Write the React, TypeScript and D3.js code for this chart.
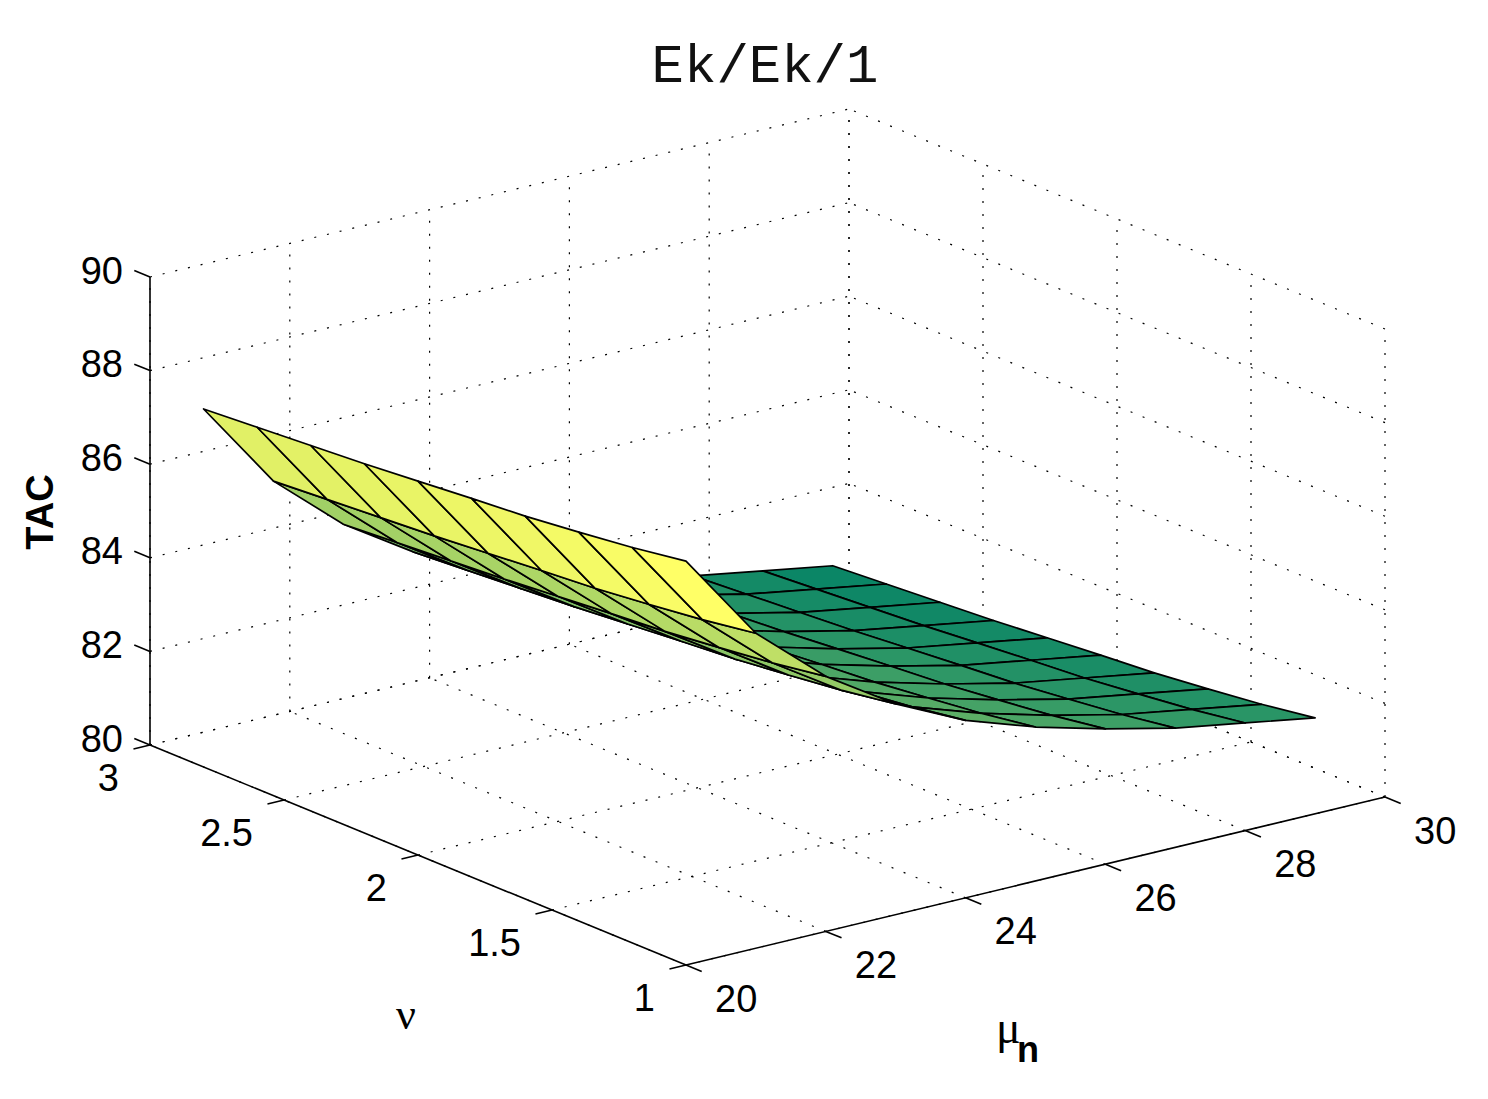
import React from "react"
import * as d3 from "d3"

// surface grid
const MU = [20, 21, 22, 23, 24, 25, 26, 27, 28, 29]
const NU = [1.0, 1.2, 1.4, 1.6, 1.8, 2.0, 2.2, 2.4, 2.6, 2.8]
// TAC[i][j] -> NU[i], MU[j]
const TAC = [
  [88.63, 86.73, 85.45, 84.5, 83.79, 83.29, 82.89, 82.55, 82.3, 82.05],
  [88.45, 86.55, 85.27, 84.32, 83.61, 83.11, 82.71, 82.37, 82.12, 81.87],
  [88.31, 86.41, 85.13, 84.18, 83.47, 82.97, 82.57, 82.23, 81.98, 81.73],
  [88.18, 86.28, 85.0, 84.05, 83.34, 82.84, 82.44, 82.1, 81.85, 81.6],
  [88.09, 86.19, 84.91, 83.96, 83.25, 82.75, 82.35, 82.01, 81.76, 81.51],
  [87.99, 86.09, 84.81, 83.86, 83.15, 82.65, 82.25, 81.91, 81.66, 81.41],
  [87.89, 85.99, 84.71, 83.76, 83.05, 82.55, 82.15, 81.81, 81.56, 81.31],
  [87.81, 85.91, 84.63, 83.68, 82.97, 82.47, 82.07, 81.73, 81.48, 81.23],
  [87.73, 85.83, 84.55, 83.6, 82.89, 82.39, 81.99, 81.65, 81.4, 81.15],
  [87.65, 85.75, 84.47, 83.52, 82.81, 82.31, 81.91, 81.57, 81.32, 81.07],
]

const MU_TICKS = [20, 22, 24, 26, 28, 30]
const NU_TICKS = [1, 1.5, 2, 2.5, 3]
const Z_TICKS = [80, 82, 84, 86, 88, 90]

const W = 1488
const H = 1099

// screen vectors of the axes box (front corner mu=20, nu=1, z=80)
const ORIGIN = [686, 965]
const EU = [699, -168]
const EV = [-536, -220]
const EW = [0, -468]

const uS = d3.scaleLinear().domain([20, 30]).range([0, 1])
const vS = d3.scaleLinear().domain([1, 3]).range([0, 1])
const wS = d3.scaleLinear().domain([80, 90]).range([0, 1])

const proj = (m: number, n: number, z: number): [number, number] => {
  const a = uS(m), b = vS(n), c = wS(z)
  return [
    ORIGIN[0] + a * EU[0] + b * EV[0] + c * EW[0],
    ORIGIN[1] + a * EU[1] + b * EV[1] + c * EW[1],
  ]
}
// distance away from the viewer
const depth = (m: number, n: number, z: number) => 508 * uS(m) + 664 * vS(n) - 155 * wS(z)

const unit = (v: number[], len: number) => {
  const l = Math.hypot(v[0], v[1])
  return [(v[0] / l) * len, (v[1] / l) * len]
}

const TICK = 17
const FONT = "'Liberation Sans', Arial, Helvetica, sans-serif"
const SERIF = "'Liberation Serif', 'DejaVu Serif', serif"
const FS = 38

const App: React.FC = () => {
  const zExt = d3.extent(TAC.flat()) as [number, number]
  const color = d3.scaleLinear<string>().domain(zExt).range(["rgb(0,128,102)", "rgb(255,255,102)"])
  const line = d3.line<[number, number]>()

  // faces
  const faces: { d: string; fill: string; depth: number }[] = []
  for (let i = 0; i < NU.length - 1; i++) {
    for (let j = 0; j < MU.length - 1; j++) {
      const corners: [number, number, number][] = [
        [MU[j], NU[i], TAC[i][j]],
        [MU[j + 1], NU[i], TAC[i][j + 1]],
        [MU[j + 1], NU[i + 1], TAC[i + 1][j + 1]],
        [MU[j], NU[i + 1], TAC[i + 1][j]],
      ]
      const pts = corners.map(c => proj(c[0], c[1], c[2]))
      const dep = d3.mean(corners, c => depth(c[0], c[1], c[2])) as number
      faces.push({ d: line(pts) + "Z", fill: color(TAC[i][j]), depth: dep })
    }
  }
  faces.sort((a, b) => b.depth - a.depth)

  // grid lines on floor and the two back walls
  const grid: [number, number, number][][] = []
  MU_TICKS.forEach(m => grid.push([[m, 1, 80], [m, 3, 80]]))
  NU_TICKS.forEach(n => grid.push([[20, n, 80], [30, n, 80]]))
  MU_TICKS.forEach(m => grid.push([[m, 3, 80], [m, 3, 90]]))
  Z_TICKS.forEach(z => grid.push([[20, 3, z], [30, 3, z]]))
  NU_TICKS.forEach(n => grid.push([[30, n, 80], [30, n, 90]]))
  Z_TICKS.forEach(z => grid.push([[30, 1, z], [30, 3, z]]))

  const axes: [number, number, number][][] = [
    [[20, 3, 80], [20, 3, 90]],
    [[20, 1, 80], [20, 3, 80]],
    [[20, 1, 80], [30, 1, 80]],
  ]

  const zTickDir = unit(EV, TICK)
  const nuTickDir = unit([-EU[0], -EU[1]], TICK)
  const muTickDir = unit([-EV[0], -EV[1]], TICK)
  const capHalf = FS * 0.36

  return (
    <svg width={W} height={H} style={{ position: "absolute", left: 0, top: 0, background: "#fff" }}>
      <rect x={0} y={0} width={W} height={H} fill="#fff" />

      <g className="grid" stroke="#000" strokeWidth={1.2} strokeDasharray="2 11" fill="none">
        {grid.map((g, k) => {
          const a = proj(...g[0]), b = proj(...g[1])
          return <line key={k} x1={a[0]} y1={a[1]} x2={b[0]} y2={b[1]} />
        })}
      </g>

      <g className="axes" stroke="#000" strokeWidth={1.6} fill="none">
        {axes.map((g, k) => {
          const a = proj(...g[0]), b = proj(...g[1])
          return <line key={k} x1={a[0]} y1={a[1]} x2={b[0]} y2={b[1]} />
        })}
        {Z_TICKS.map(z => {
          const p = proj(20, 3, z)
          return <line key={"zt" + z} x1={p[0]} y1={p[1]} x2={p[0] + zTickDir[0]} y2={p[1] + zTickDir[1]} />
        })}
        {NU_TICKS.map(n => {
          const p = proj(20, n, 80)
          return <line key={"nt" + n} x1={p[0]} y1={p[1]} x2={p[0] + nuTickDir[0]} y2={p[1] + nuTickDir[1]} />
        })}
        {MU_TICKS.map(m => {
          const p = proj(m, 1, 80)
          return <line key={"mt" + m} x1={p[0]} y1={p[1]} x2={p[0] + muTickDir[0]} y2={p[1] + muTickDir[1]} />
        })}
      </g>

      <g className="surface" stroke="#000" strokeWidth={1.7} strokeLinejoin="round">
        {faces.map((f, k) => <path key={k} d={f.d} fill={f.fill} />)}
      </g>

      <g className="tick-labels" fontFamily={FONT} fontSize={FS} fill="#000">
        {Z_TICKS.map(z => {
          const p = proj(20, 3, z)
          return <text key={"zl" + z} x={p[0] - 27} y={p[1] - 7 + capHalf} textAnchor="end">{z}</text>
        })}
        {NU_TICKS.map(n => {
          const p = proj(20, n, 80)
          return <text key={"nl" + n} x={p[0] - 31} y={p[1] + 32 + capHalf} textAnchor="end">{n}</text>
        })}
        {MU_TICKS.map(m => {
          const p = proj(m, 1, 80)
          return <text key={"ml" + m} x={p[0] + 29} y={p[1] + 33 + capHalf} textAnchor="start">{m}</text>
        })}
      </g>

      <text x={765} y={82} textAnchor="middle" fontFamily="'Liberation Mono', 'Courier New', monospace" fontSize={54} fill="#111">Ek/Ek/1</text>

      <text transform="translate(53,512) rotate(-90)" textAnchor="middle" fontFamily={FONT} fontWeight="bold" fontSize={FS} fill="#000">TAC</text>

      <text x={406} y={1029} textAnchor="middle" fontFamily={SERIF} fontSize={44} fill="#000">ν</text>

      <text x={996} y={1043} fontFamily={SERIF} fontSize={46} fill="#000">μ</text>
      <text x={1017} y={1062} fontFamily={FONT} fontWeight="bold" fontSize={FS * 0.95} fill="#000">n</text>
    </svg>
  )
}

export default App
